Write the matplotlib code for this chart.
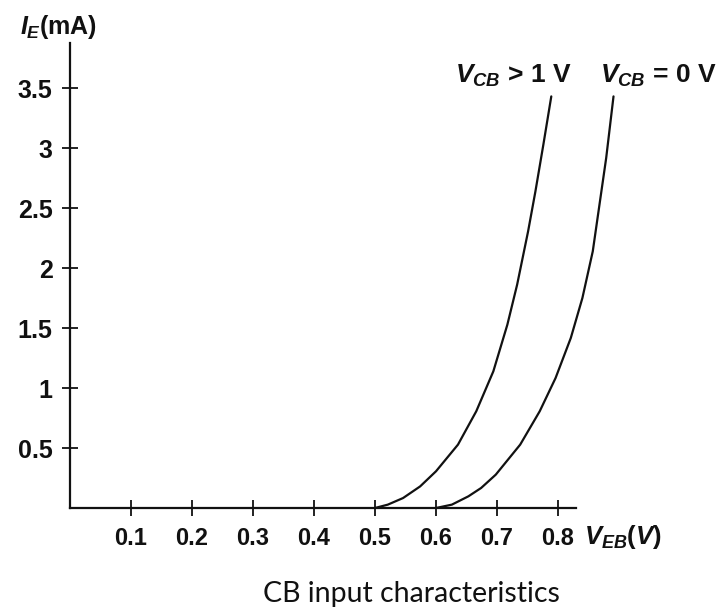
import matplotlib
matplotlib.use("Agg")
import matplotlib.pyplot as plt

# ---- data ----
x_ticks = [0.1, 0.2, 0.3, 0.4, 0.5, 0.6, 0.7, 0.8]
x_tick_labels = ["0.1", "0.2", "0.3", "0.4", "0.5", "0.6", "0.7", "0.8"]
y_ticks = [0.5, 1.0, 1.5, 2.0, 2.5, 3.0, 3.5]
y_tick_labels = ["0.5", "1", "1.5", "2", "2.5", "3", "3.5"]

# V_CB > 1 V curve
veb_cb_gt1 = [0.500, 0.521, 0.546, 0.574, 0.600, 0.636, 0.666, 0.694, 0.717,
              0.733, 0.751, 0.763, 0.776, 0.789]
ie_cb_gt1 = [0.000, 0.028, 0.083, 0.180, 0.306, 0.528, 0.806, 1.139, 1.528,
             1.861, 2.306, 2.639, 3.028, 3.430]
# V_CB = 0 V curve
veb_cb_0 = [0.600, 0.626, 0.653, 0.674, 0.698, 0.738, 0.770, 0.796, 0.821,
            0.840, 0.857, 0.868, 0.879, 0.891]
ie_cb_0 = [0.000, 0.028, 0.097, 0.167, 0.278, 0.528, 0.806, 1.083, 1.417,
           1.750, 2.139, 2.528, 2.917, 3.430]

plt.rcParams["font.family"] = ["Liberation Sans", "DejaVu Sans"]
plt.rcParams["mathtext.fontset"] = "custom"
plt.rcParams["mathtext.it"] = "Liberation Sans:italic:bold"
plt.rcParams["mathtext.rm"] = "Liberation Sans:bold"
plt.rcParams["mathtext.bf"] = "Liberation Sans:bold"

W, H = 722, 608
fig = plt.figure(figsize=(W / 100, H / 100), dpi=100)
ax = fig.add_axes([70 / W, (H - 508) / H, 549 / W, 465 / H])

ink = "#111111"
ax.plot(veb_cb_gt1, ie_cb_gt1, color=ink, lw=1.6, solid_capstyle="round",
        solid_joinstyle="round")
ax.plot(veb_cb_0, ie_cb_0, color=ink, lw=1.6, solid_capstyle="round",
        solid_joinstyle="round")

ax.set_xlim(0, 0.9)
ax.set_ylim(0, 3.875)
for s in ["top", "right"]:
    ax.spines[s].set_visible(False)
for s in ["left", "bottom"]:
    ax.spines[s].set_linewidth(1.6)
    ax.spines[s].set_color(ink)
ax.spines["bottom"].set_bounds(0, 0.83)

ax.set_xticks(x_ticks)
ax.set_xticklabels(x_tick_labels)
ax.set_yticks(y_ticks)
ax.set_yticklabels(y_tick_labels)
ax.tick_params(axis="both", direction="inout", length=11, width=1.3, color=ink,
               labelcolor=ink)
ax.tick_params(axis="x", pad=8, labelsize=17)
ax.tick_params(axis="y", pad=7, labelsize=18)
for lab in ax.get_xticklabels() + ax.get_yticklabels():
    lab.set_fontweight("bold")

# axis labels
fig.text(20 / W, 1 - 34 / H, r"$I_E$(mA)", fontsize=18, fontweight="bold",
         color=ink, ha="left", va="baseline")
fig.text(584 / W, 1 - 544 / H, r"$V_{EB}(V)$", fontsize=18.5, fontweight="bold",
         color=ink, ha="left", va="baseline")

# curve labels
fig.text(455 / W, 1 - 83 / H, r"$V_{CB}$ > 1 V", fontsize=19, fontweight="bold",
         color=ink, ha="left", va="baseline")
fig.text(600 / W, 1 - 83 / H, r"$V_{CB}$ = 0 V", fontsize=19, fontweight="bold",
         color=ink, ha="left", va="baseline")

# caption
fig.text(411 / W, 1 - 602 / H, "CB input characteristics", fontsize=20.5,
         family=["Lato", "DejaVu Sans"], color=ink, ha="center", va="baseline")

fig.savefig("out.png", dpi=100)
